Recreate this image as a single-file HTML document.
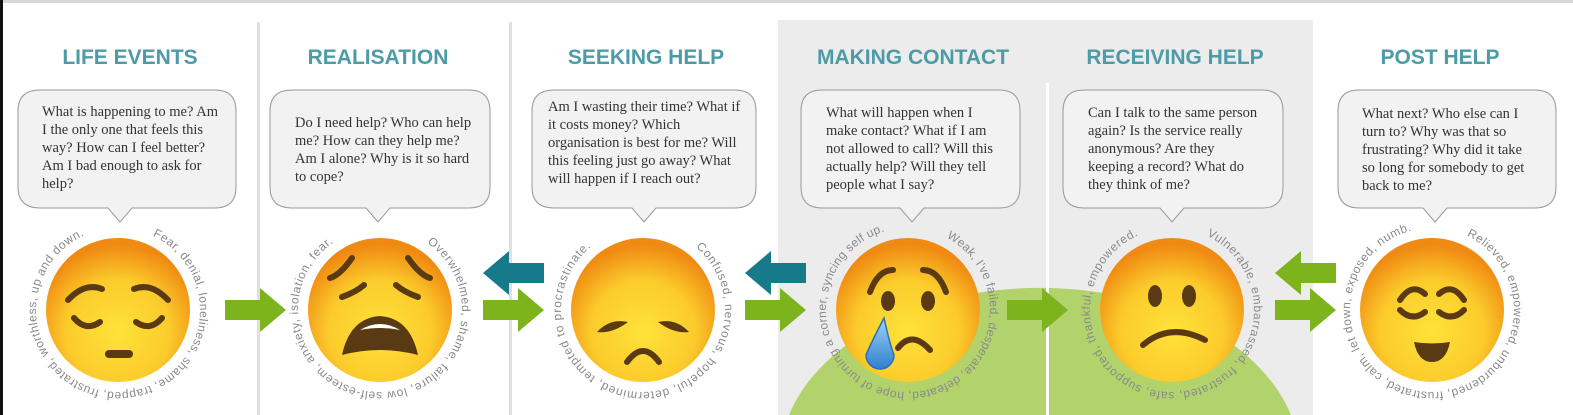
<!DOCTYPE html>
<html><head><meta charset="utf-8"><style>
html,body{margin:0;padding:0;background:#fff;overflow:hidden;width:1573px;height:415px;}
svg{display:block;overflow:hidden;}
.t{font-family:"Liberation Sans",sans-serif;font-weight:bold;font-size:21px;fill:#4d9ba6;text-anchor:middle;}
.q{font-family:"Liberation Serif",serif;font-size:14.5px;fill:#333;}
.c{font-family:"Liberation Sans",sans-serif;font-size:12px;fill:#8a8a8a;}
.b{fill:#f2f2f2;stroke:#9a9a9a;stroke-width:1;}
.f{fill:#5a3a12;}
.fs{fill:none;stroke:#5a3a12;stroke-width:6;stroke-linecap:round;}
</style></head><body>
<svg width="1573" height="415" viewBox="0 0 1573 415" xmlns="http://www.w3.org/2000/svg">
<defs>
<radialGradient id="eg" cx="50%" cy="65%" r="60%">
<stop offset="0" stop-color="#ffe23a"/><stop offset="0.6" stop-color="#fbcb2c"/><stop offset="1" stop-color="#f08a12"/>
</radialGradient>
<linearGradient id="tear" x1="0" y1="0" x2="0" y2="1"><stop offset="0" stop-color="#9fd3f5"/><stop offset="1" stop-color="#2f7fd0"/></linearGradient>
<path id="p1"/><path id="p2"/><path id="p3"/><path id="p4"/><path id="p5"/><path id="p6"/>
</defs>
<rect x="0" y="0" width="1573" height="3" fill="#d8d8d8"/>
<rect x="0" y="0" width="3" height="415" fill="#111"/>
<rect x="257" y="22" width="3" height="393" fill="#e0e0e0"/>
<rect x="509" y="22" width="3" height="393" fill="#e0e0e0"/>
<rect x="778" y="20" width="535" height="395" fill="#ececec"/>
<path d="M789,415 A260,172 0 0 1 1291,415 Z" fill="#b2d36c"/>
<rect x="1046" y="83" width="3" height="332" fill="#fff"/>

<text class="t" x="130" y="64">LIFE EVENTS</text>
<text class="t" x="378" y="64">REALISATION</text>
<text class="t" x="646" y="64">SEEKING HELP</text>
<text class="t" x="913" y="64">MAKING CONTACT</text>
<text class="t" x="1175" y="64">RECEIVING HELP</text>
<text class="t" x="1440" y="64">POST HELP</text>

<g>
<path class="b" d="M40,90 H215 Q236,90 236,111 V187 Q236,208 215,208 H132 L120,222 L108,208 H40 Q18,208 18,187 V111 Q18,90 40,90Z"/>
<path class="b" d="M292,90 H469 Q490,90 490,111 V187 Q490,208 469,208 H390 L378,222 L366,208 H292 Q270,208 270,187 V111 Q270,90 292,90Z"/>
<path class="b" d="M554,90 H735 Q756,90 756,111 V187 Q756,208 735,208 H656 L644,222 L632,208 H554 Q532,208 532,187 V111 Q532,90 554,90Z"/>
<path class="b" d="M822,90 H999 Q1020,90 1020,111 V187 Q1020,208 999,208 H924 L912,222 L900,208 H822 Q801,208 801,187 V111 Q801,90 822,90Z"/>
<path class="b" d="M1084,90 H1262 Q1283,90 1283,111 V187 Q1283,208 1262,208 H1184 L1172,222 L1160,208 H1084 Q1063,208 1063,187 V111 Q1063,90 1084,90Z"/>
<path class="b" d="M1359,90 H1535 Q1556,90 1556,111 V187 Q1556,208 1535,208 H1447 L1435,222 L1423,208 H1359 Q1338,208 1338,187 V111 Q1338,90 1359,90Z"/>
</g>

<text class="q"><tspan x="42" y="116">What is happening to me? Am</tspan><tspan x="42" y="134">I the only one that feels this</tspan><tspan x="42" y="152">way? How can I feel better?</tspan><tspan x="42" y="170">Am I bad enough to ask for</tspan><tspan x="42" y="188">help?</tspan></text>
<text class="q"><tspan x="295" y="127">Do I need help? Who can help</tspan><tspan x="295" y="145">me? How can they help me?</tspan><tspan x="295" y="163">Am I alone? Why is it so hard</tspan><tspan x="295" y="181">to cope?</tspan></text>
<text class="q"><tspan x="548" y="111">Am I wasting their time? What if</tspan><tspan x="548" y="129">it costs money? Which</tspan><tspan x="548" y="147">organisation is best for me? Will</tspan><tspan x="548" y="165">this feeling just go away? What</tspan><tspan x="548" y="183">will happen if I reach out?</tspan></text>
<text class="q"><tspan x="826" y="117">What will happen when I</tspan><tspan x="826" y="135">make contact? What if I am</tspan><tspan x="826" y="153">not allowed to call? Will this</tspan><tspan x="826" y="171">actually help? Will they tell</tspan><tspan x="826" y="189">people what I say?</tspan></text>
<text class="q"><tspan x="1088" y="117">Can I talk to the same person</tspan><tspan x="1088" y="135">again? Is the service really</tspan><tspan x="1088" y="153">anonymous? Are they</tspan><tspan x="1088" y="171">keeping a record? What do</tspan><tspan x="1088" y="189">they think of me?</tspan></text>
<text class="q"><tspan x="1362" y="118">What next? Who else can I</tspan><tspan x="1362" y="136">turn to? Why was that so</tspan><tspan x="1362" y="154">frustrating? Why did it take</tspan><tspan x="1362" y="172">so long for somebody to get</tspan><tspan x="1362" y="190">back to me?</tspan></text>

<g fill="#7db41e">
<path d="M225,300 H260 V288 L286,310 L260,332 V320 H225Z"/>
<path d="M483,300 H518 V288 L544,310 L518,332 V320 H483Z"/>
<path d="M745,300 H780 V288 L806,310 L780,332 V320 H745Z"/>
<path d="M1007,300 H1042 V288 L1068,310 L1042,332 V320 H1007Z"/>
<path d="M1275,300 H1310 V288 L1336,310 L1310,332 V320 H1275Z"/>
<path d="M1336,263 H1301 V251 L1275,273 L1301,295 V283 H1336Z"/>
</g>
<g fill="#167a8a">
<path d="M544,263 H509 V251 L483,273 L509,295 V283 H544Z"/>
<path d="M806,263 H771 V251 L745,273 L771,295 V283 H806Z"/>
</g>

<g>
<circle cx="118" cy="310" r="72" fill="url(#eg)"/>
<path class="fs" d="M68,300 Q85,282 102,289"/><path class="fs" d="M168,300 Q151,282 134,289"/>
<path class="fs" d="M74,318 Q86,332 100,322"/><path class="fs" d="M162,318 Q150,332 136,322"/>
<rect x="105" y="350" width="28" height="8" rx="4" class="f"/>

<circle cx="380" cy="310" r="72" fill="url(#eg)"/>
<path class="fs" d="M352,258 Q340,275 330,278"/><path class="fs" d="M408,258 Q420,275 430,278"/>
<path class="fs" d="M342,297 Q356,292 364,285"/><path class="fs" d="M418,297 Q404,292 396,285"/>
<path class="f" d="M342,355 Q350,318 380,316 Q410,318 418,355 Q380,345 342,355Z"/>
<path d="M360,330 Q380,318 400,330 Q380,326 360,330Z" fill="#fff"/>

<circle cx="643" cy="310" r="72" fill="url(#eg)"/>
<path class="f" d="M597,332 Q610,318 628,322 Q612,334 597,332Z"/><path class="f" d="M689,332 Q676,318 658,322 Q674,334 689,332Z"/>
<path class="fs" d="M627,362 Q643,340 659,362"/>

<circle cx="908" cy="310" r="72" fill="url(#eg)"/>
<path class="fs" d="M870,292 Q878,270 893,270"/><path class="fs" d="M946,292 Q938,270 923,270"/>
<ellipse cx="888" cy="301" rx="7" ry="10" class="f"/><ellipse cx="928" cy="301" rx="7" ry="10" class="f"/>
<path class="fs" d="M898,348 Q912,330 930,350"/>
<path d="M884,318 Q870,345 866,355 A14,14 0 1 0 894,355 Q890,345 884,318Z" fill="url(#tear)" stroke="#2a6fb8" stroke-width="1.5"/>

<circle cx="1172" cy="310" r="72" fill="url(#eg)"/>
<ellipse cx="1155" cy="296" rx="7" ry="11" class="f"/><ellipse cx="1189" cy="296" rx="7" ry="11" class="f"/>
<path class="fs" d="M1143,345 Q1170,322 1205,340"/>

<circle cx="1432" cy="310" r="72" fill="url(#eg)"/>
<path class="fs" d="M1400,300 Q1412,282 1425,294"/><path class="fs" d="M1464,300 Q1452,282 1439,294"/>
<path class="fs" d="M1400,310 Q1412,322 1425,312" stroke-width="4"/><path class="fs" d="M1464,310 Q1452,322 1439,312" stroke-width="4"/>
<path class="f" d="M1414,342 Q1432,345 1450,342 Q1446,362 1432,362 Q1418,362 1414,342Z"/>
</g>

<text class="c"><textPath id="tp1" href="#p1">Fear, denial, loneliness, shame, trapped, frustrated, worthless, up and down.</textPath></text>
<text class="c"><textPath id="tp2" href="#p2">Overwhelmed, shame, failure, low self-esteem, anxiety, isolation, fear.</textPath></text>
<text class="c"><textPath id="tp3" href="#p3">Confused, nervous, hopeful, determined, tempted to procrastinate.</textPath></text>
<text class="c"><textPath id="tp4" href="#p4">Weak, I've failed, desperate, defeated, hope of turning a corner, syncing self up.</textPath></text>
<text class="c"><textPath id="tp5" href="#p5">Vulnerable, embarrassed, frustrated, safe, supported, thankful, empowered.</textPath></text>
<text class="c"><textPath id="tp6" href="#p6">Relieved, empowered, unburdened, frustrated, calm, let down, exposed, numb.</textPath></text>
</svg>
<script>
var cfg=[[1,118,25,335],[2,380,35,325],[3,643,40,320],[4,908,28,343],[5,1172,25,335],[6,1432,25,345]];
cfg.forEach(function(c){
 var r=82,cx=c[1],cy=310,a=c[2]*Math.PI/180;
 var x=cx+r*Math.sin(a),y=cy-r*Math.cos(a),x2=cx-r*Math.sin(a),y2=cy+r*Math.cos(a);
 document.getElementById('p'+c[0]).setAttribute('d','M'+x+','+y+' A'+r+','+r+' 0 0 1 '+x2+','+y2+' A'+r+','+r+' 0 0 1 '+x+','+y);
 var tp=document.getElementById('tp'+c[0]);
 tp.setAttribute('textLength',((c[3]-c[2])*Math.PI/180*r).toFixed(1));
 tp.setAttribute('lengthAdjust','spacing');
});
</script>
</body></html>
